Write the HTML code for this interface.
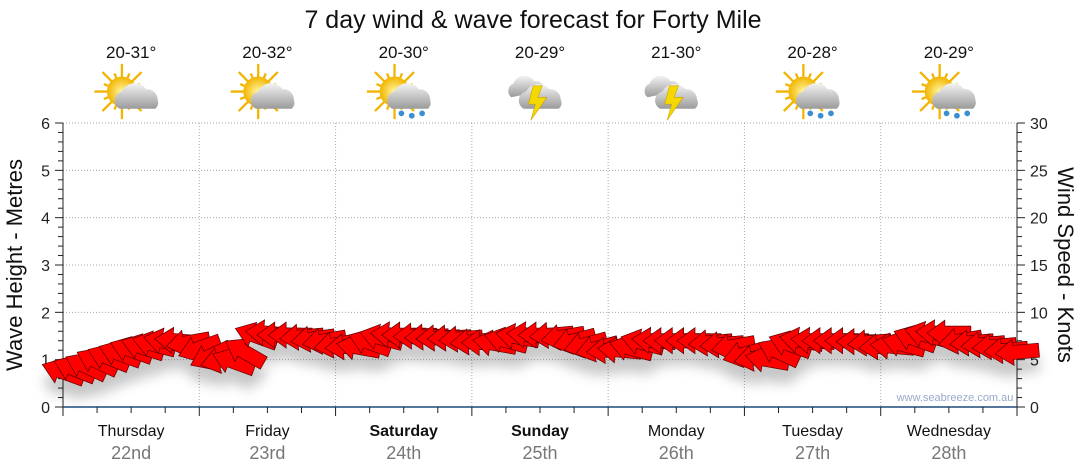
<!DOCTYPE html>
<html><head><meta charset="utf-8"><style>
body{margin:0;background:#fff;font-family:"Liberation Sans","DejaVu Sans",sans-serif}
svg{display:block}
</style></head><body>
<svg id="c" width="1080" height="475" xmlns="http://www.w3.org/2000/svg">
<defs>
<radialGradient id="sun" cx="0.5" cy="0.5" r="0.5"><stop offset="0" stop-color="#fff7a0"/><stop offset="1" stop-color="#f2b400"/></radialGradient>
<linearGradient id="cloud" x1="0" y1="0" x2="0" y2="1"><stop offset="0" stop-color="#f4f4f4"/><stop offset="1" stop-color="#9a9a9a"/></linearGradient>
<filter id="sh" x="-20%" y="-50%" width="140%" height="250%"><feDropShadow dx="0" dy="14" stdDeviation="6" flood-color="#000" flood-opacity="0.22"/></filter>
</defs>
<text x="533" y="28" text-anchor="middle" font-size="25" fill="#111">7 day wind &amp; wave forecast for Forty Mile</text>
<g id="grid"></g><g id="axes"></g><g id="icons"></g><g id="arrows" filter="url(#sh)"></g>
<text x="955" y="401" font-size="11" fill="#9aaac8" text-anchor="middle">www.seabreeze.com.au</text>
<text transform="translate(22,265) rotate(-90)" text-anchor="middle" font-size="22" fill="#111">Wave Height - Metres</text>
<text transform="translate(1058,265) rotate(90)" text-anchor="middle" font-size="22" fill="#111">Wind Speed - Knots</text>
</svg>
<script>
const days=["Thursday","Friday","Saturday","Sunday","Monday","Tuesday","Wednesday"];
const dates=["22nd","23rd","24th","25th","26th","27th","28th"];
const bold=[false,false,true,true,false,false,false];
const temps=["20-31°","20-32°","20-30°","20-29°","21-30°","20-28°","20-29°"];
const icons=["cloudsun","cloudsun","rainsun","storm","storm","rainsun","rainsun"];
const waveTicks=[0,1,2,3,4,5,6];
const windTicks=[0,5,10,15,20,25,30];
const wind=[3.7,4.0,4.3,4.8,5.2,5.6,6.0,6.3,6.6,6.9,7.0,6.8,
6.2,5.4,5.0,4.8,5.8,7.5,7.8,7.6,7.6,7.4,7.2,7.0,
6.6,6.4,6.3,6.8,7.3,7.6,7.6,7.5,7.4,7.3,7.3,7.2,
6.9,6.8,6.7,7.0,7.4,7.6,7.6,7.6,7.4,7.0,6.6,6.2,
6.0,6.0,6.2,6.8,7.0,7.0,7.0,7.0,7.0,6.8,6.6,6.4,
5.6,5.2,5.0,5.8,6.6,7.0,7.0,7.0,7.0,7.0,6.9,6.8,
6.4,6.4,6.6,7.2,7.6,7.8,7.8,7.0,6.8,6.6,6.4,6.0,5.8];
const dirs=[20,22,25,25,22,20,20,18,15,12,5,-10,
-20,-25,-15,20,30,20,5,0,0,-5,-8,-10,
-10,-5,10,20,15,5,0,-2,-3,-3,-3,-5,
-5,0,10,15,10,5,0,-5,-10,-15,-15,-15,
-5,5,15,15,5,0,0,0,0,-5,-5,-10,
-15,-10,10,25,20,10,5,0,0,0,0,-5,
-5,5,15,20,15,5,0,-10,-5,-5,-5,-5,-5];
const X0=63,X1=1017,Y0=407,Y1=123;
const dayW=(X1-X0)/7;
const ns="http://www.w3.org/2000/svg";
function el(t,a,p){const e=document.createElementNS(ns,t);for(const k in a)e.setAttribute(k,a[k]);document.getElementById(p).appendChild(e);return e;}
const xT=i=>X0+i*(X1-X0)/(wind.length-1);
const yW=v=>Y0-(Y0-Y1)*v/30;
const yM=v=>Y0-(Y0-Y1)*v/6;
waveTicks.forEach(v=>{if(v>0){const g=el('line',{x1:X0,x2:X1,y1:yM(v),y2:yM(v),stroke:'#aaa','stroke-dasharray':'1,2'},'grid');
}});
for(let d=1;d<=7;d++){const x=X0+d*dayW;const g=el('line',{x1:x,x2:x,y1:Y1,y2:Y0,stroke:'#aaa','stroke-dasharray':'1,2'},'grid');
}
el('line',{x1:X0,x2:X0,y1:Y1,y2:Y0,stroke:'#222'},'axes');
el('line',{x1:X1,x2:X1,y1:Y1,y2:Y0,stroke:'#222'},'axes');
const ba=el('line',{x1:X0,x2:X1,y1:Y0,y2:Y0,stroke:'#1c4a7a','stroke-width':1.5},'axes');

for(let i=0;i<=30;i++){const y=Y0-(Y0-Y1)*i/30;const big=i%5==0;
el('line',{x1:X0-(big?8:5),x2:X0,y1:y,y2:y,stroke:'#222'},'axes');
el('line',{x1:X1,x2:X1+(big?8:5),y1:y,y2:y,stroke:'#222'},'axes');}
waveTicks.forEach(v=>{const t=el('text',{x:50,y:yM(v)+6,'font-size':16,'text-anchor':'end',fill:'#222'},'axes');t.textContent=v;
});
windTicks.forEach(v=>{const t=el('text',{x:1030,y:yW(v)+6,'font-size':16,fill:'#222'},'axes');t.textContent=v;
});
for(let i=0;i<=28;i++){const x=X0+i*dayW/4;el('line',{x1:x,x2:x,y1:Y0,y2:Y0+(i%4==0?9:6),stroke:'#222'},'axes');}
days.forEach((d,i)=>{const cx=X0+(i+0.5)*dayW;
const t=el('text',{x:cx,y:436,'font-size':16,'text-anchor':'middle',fill:'#111','font-weight':bold[i]?'bold':'normal'},'axes');t.textContent=d;

const t2=el('text',{x:cx,y:459,'font-size':18,'text-anchor':'middle',fill:'#777'},'axes');t2.textContent=dates[i];

const t3=el('text',{x:cx,y:58,'font-size':17,'text-anchor':'middle',fill:'#111'},'icons');t3.textContent=temps[i];

const g=el('g',{transform:`translate(${cx},95) scale(1.15)`},'icons');

const k=icons[i];let s='';
if(k!='storm'){let rays='';for(let a=0;a<16;a++){const r=a%2?17:24;const an=a*Math.PI/8;rays+=`<line x1="-8" y1="-3" x2="${-8+r*Math.cos(an)}" y2="${-3+r*Math.sin(an)}" stroke="#f2b400" stroke-width="2"/>`;}
s+=rays+`<circle cx="-8" cy="-3" r="13" fill="url(#sun)"/>`;
s+=`<path d="M-10,12 a8,8 0 0 1 2,-15 a12,12 0 0 1 21,-2 a9,9 0 0 1 10,9 a7,7 0 0 1 -2,8 z" fill="url(#cloud)"/>`;
if(k=='rainsun')s+=`<circle cx="-2" cy="16" r="2.5" fill="#3b8fd0"/><circle cx="7" cy="18" r="2.5" fill="#3b8fd0"/><circle cx="16" cy="16" r="2.5" fill="#3b8fd0"/>`;}
else{s+=`<path d="M-25,2 a7,7 0 0 1 2,-12 a10,10 0 0 1 18,-2 a8,8 0 0 1 9,8 z" fill="url(#cloud)"/>`;
s+=`<path d="M-14,12 a8,8 0 0 1 2,-15 a12,12 0 0 1 20,-2 a9,9 0 0 1 10,9 a6,6 0 0 1 -2,8 z" fill="url(#cloud)"/>`;
s+=`<polygon points="-6,-8 2,-8 -2,2 6,2 -8,22 -4,8 -10,8" fill="#f5d800" stroke="#c9a000" stroke-width="0.5"/>`;}
g.innerHTML=s;});
wind.forEach((v,i)=>{const x=xT(i),y=yW(v);
const p=el('polygon',{points:"-22,0 -4,-13 -4,-7 22,-7 22,7 -4,7 -4,13",fill:'#f00',stroke:'#5a0000','stroke-width':0.7,
transform:`translate(${x},${y}) rotate(${dirs[i]})`},'arrows');

});
</script>
</body></html>
